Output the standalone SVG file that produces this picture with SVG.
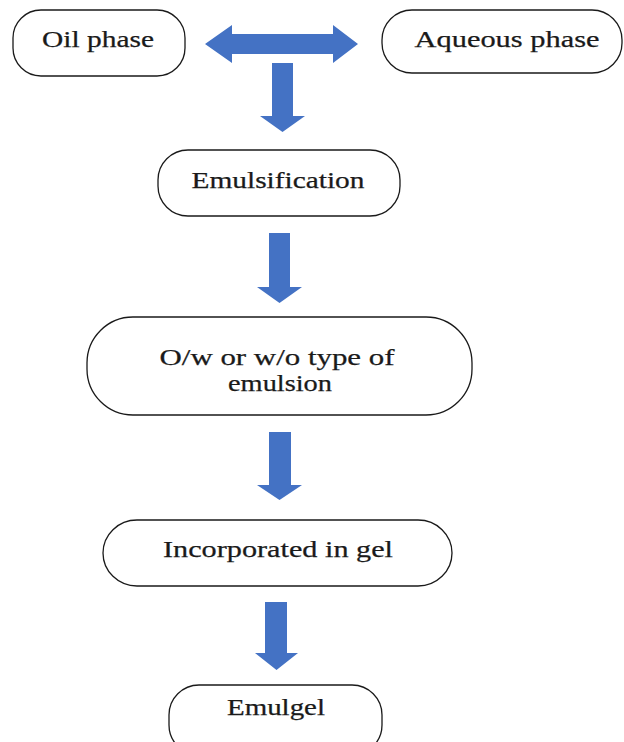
<svg xmlns="http://www.w3.org/2000/svg" width="624" height="742" viewBox="0 0 624 742">
<style>
.box{fill:#fff;stroke:#1a1a1a;stroke-width:1.3}
.lbl{font-family:"Liberation Serif","Times New Roman",serif;font-size:23px;fill:#1a1a1a;text-anchor:middle;stroke:#1a1a1a;stroke-width:0.25}
.arr{fill:#4472C4}
</style>
<rect width="624" height="742" fill="#fff"/>
<g id="connectors">
<polygon class="arr" points="205,44 232,25 232,34 333,34 333,25 358,44 333,63 333,54 232,54 232,63"/>
<polygon class="arr" points="272,63 293,63 293,116 305,116 282.5,132 260,116 272,116"/>
<polygon class="arr" points="269,233 290,233 290,287 302,287 279.5,303 257,287 269,287"/>
<polygon class="arr" points="269,432 291,432 291,485 302,485 279.5,500 257,485 269,485"/>
<polygon class="arr" points="265,602 287,602 287,653 298,653 276.5,670 255,653 265,653"/>
</g>
<g id="oil">
<rect class="box" x="13" y="10" width="172" height="66" rx="28"/>
<text class="lbl" x="98" y="47" textLength="112" lengthAdjust="spacingAndGlyphs">Oil phase</text>
</g>
<g id="aqueous">
<rect class="box" x="382" y="10" width="240" height="63" rx="30"/>
<text class="lbl" x="507" y="47" textLength="185" lengthAdjust="spacingAndGlyphs">Aqueous phase</text>
</g>
<g id="emulsification">
<rect class="box" x="158" y="150" width="242" height="66" rx="30"/>
<text class="lbl" x="278" y="188" textLength="173" lengthAdjust="spacingAndGlyphs">Emulsification</text>
</g>
<g id="type">
<rect class="box" x="87" y="317" width="385" height="98" rx="46"/>
<text class="lbl" x="277" y="365" textLength="235" lengthAdjust="spacingAndGlyphs">O/w or w/o type of</text>
<text class="lbl" x="280" y="391" textLength="104" lengthAdjust="spacingAndGlyphs">emulsion</text>
</g>
<g id="incorporated">
<rect class="box" x="103" y="520" width="349" height="66" rx="34"/>
<text class="lbl" x="278" y="557" textLength="230" lengthAdjust="spacingAndGlyphs">Incorporated in gel</text>
</g>
<g id="emulgel">
<rect class="box" x="169" y="685" width="213" height="70" rx="30"/>
<text class="lbl" x="276" y="715" textLength="98" lengthAdjust="spacingAndGlyphs">Emulgel</text>
</g>
</svg>
